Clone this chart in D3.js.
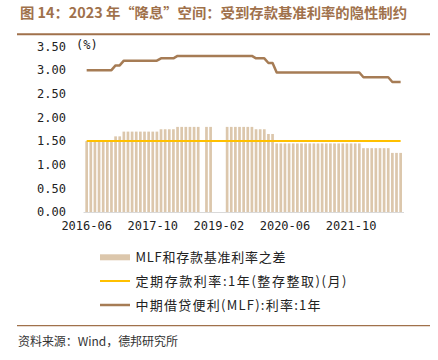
<!DOCTYPE html>
<html>
<head>
<meta charset="utf-8">
<script src="https://cdn.jsdelivr.net/npm/d3@7"></script>
<style>
  html, body { margin: 0; padding: 0; background: #fff; }
  svg { display: block; }
</style>
</head>
<body>
<svg id="chart" width="438" height="360"></svg>
<script>
// ---- Data ----
const months = [
  "2016-06","2016-07","2016-08","2016-09","2016-10","2016-11","2016-12",
  "2017-01","2017-02","2017-03","2017-04","2017-05","2017-06","2017-07","2017-08","2017-09","2017-10","2017-11","2017-12",
  "2018-01","2018-02","2018-03","2018-04","2018-05","2018-06","2018-07","2018-08","2018-09","2018-10","2018-11","2018-12",
  "2019-01","2019-02","2019-03","2019-04","2019-05","2019-06","2019-07","2019-08","2019-09","2019-10","2019-11","2019-12",
  "2020-01","2020-02","2020-03","2020-04","2020-05","2020-06","2020-07","2020-08","2020-09","2020-10","2020-11","2020-12",
  "2021-01","2021-02","2021-03","2021-04","2021-05","2021-06","2021-07","2021-08","2021-09","2021-10","2021-11","2021-12",
  "2022-01","2022-02","2022-03","2022-04","2022-05","2022-06","2022-07","2022-08","2022-09","2022-10"
];

// 中期借贷便利(MLF):利率:1年
const mlfRate = [
  3.00,3.00,3.00,3.00,3.00,3.00,3.00,
  3.10,3.10,3.20,3.20,3.20,3.20,3.20,3.20,3.20,3.20,3.20,3.25,
  3.25,3.25,3.25,3.30,3.30,3.30,3.30,3.30,3.30,3.30,3.30,3.30,
  3.30,3.30,3.30,3.30,3.30,3.30,3.30,3.30,3.30,3.30,3.25,3.25,
  3.25,3.15,3.15,2.95,2.95,2.95,2.95,2.95,2.95,2.95,2.95,2.95,
  2.95,2.95,2.95,2.95,2.95,2.95,2.95,2.95,2.95,2.95,2.95,2.95,
  2.85,2.85,2.85,2.85,2.85,2.85,2.85,2.75,2.75,2.75
];

// 定期存款利率:1年(整存整取)(月)
const depositRate = [
  1.50,1.50,1.50,1.50,1.50,1.50,1.50,
  1.50,1.50,1.50,1.50,1.50,1.50,1.50,1.50,1.50,1.50,1.50,1.50,
  1.50,1.50,1.50,1.50,1.50,1.50,1.50,1.50,1.50,1.50,1.50,1.50,
  1.50,1.50,1.50,1.50,1.50,1.50,1.50,1.50,1.50,1.50,1.50,1.50,
  1.50,1.50,1.50,1.50,1.50,1.50,1.50,1.50,1.50,1.50,1.50,1.50,
  1.50,1.50,1.50,1.50,1.50,1.50,1.50,1.50,1.50,1.50,1.50,1.50,
  1.50,1.50,1.50,1.50,1.50,1.50,1.50,1.50,1.50,1.50
];

// MLF和存款基准利率之差 (null = no value that month)
const spread = [
  1.50,1.50,1.50,1.50,1.50,1.50,1.50,
  1.60,1.60,1.70,1.70,1.70,1.70,1.70,1.70,1.70,1.70,1.70,1.75,
  1.75,1.75,1.75,1.80,1.80,1.80,1.80,1.80,1.80,null,1.80,1.80,
  null,null,null,1.80,1.80,1.80,1.80,1.80,1.80,1.80,1.75,1.75,
  1.75,1.65,1.65,1.45,1.45,1.45,1.45,1.45,1.45,1.45,1.45,1.45,
  1.45,1.45,1.45,1.45,1.45,1.45,1.45,1.45,1.45,1.45,1.45,1.45,
  1.35,1.35,1.35,1.35,1.35,1.35,1.35,1.25,1.25,1.25
];

const yTicks = [0, 0.5, 1.0, 1.5, 2.0, 2.5, 3.0, 3.5];
const xTickLabels = ["2016-06", "2017-10", "2019-02", "2020-06", "2021-10"];

const titleText = "图 14：2023 年“降息”空间：受到存款基准利率的隐性制约";
const legendLabels = ["MLF和存款基准利率之差", "定期存款利率:1年(整存整取)(月)", "中期借贷便利(MLF):利率:1年"];
const unitText = "(%)";
const sourceText = "资料来源：Wind，德邦研究所";

// ---- Styles ----
const C_BAR = "#DCC7AC";
const C_DEP = "#FFC000";
const C_MLF = "#A67C55";
const C_TITLE = "#A0714B";
const CJK = "'Noto Sans CJK SC', sans-serif";
const MONO = "'DejaVu Sans Mono', monospace";

const svg = d3.select("#chart");

// Title
svg.append("text")
  .attr("x", 20).attr("y", 17.5)
  .attr("font-family", CJK).attr("font-size", 14).attr("font-weight", "bold")
  .attr("fill", C_TITLE)
  .attr("textLength", 387).attr("lengthAdjust", "spacingAndGlyphs")
  .text(titleText);
svg.append("line")
  .attr("x1", 17).attr("x2", 430).attr("y1", 34.3).attr("y2", 34.3)
  .attr("stroke", C_TITLE).attr("stroke-width", 2);

// Scales
const x = d3.scaleBand().domain(months).range([84.6, 402.7])
  .paddingInner(0.35).paddingOuter(0.175);
const y = d3.scaleLinear().domain([0, 3.5]).range([212, 46.5]);

// Bars
svg.append("g").selectAll("rect")
  .data(months.map((m, i) => ({ m, v: spread[i] })).filter(d => d.v != null))
  .join("rect")
  .attr("x", d => x(d.m))
  .attr("width", x.bandwidth())
  .attr("y", d => y(d.v))
  .attr("height", d => y(0) - y(d.v))
  .attr("fill", C_BAR);

// X axis
const xAxis = svg.append("g")
  .attr("transform", `translate(0,${y(0)})`)
  .call(d3.axisBottom(x).tickValues(xTickLabels).tickSize(0).tickPadding(9).tickSizeOuter(0));
xAxis.select(".domain").attr("stroke", "#D9D9D9").attr("stroke-width", 1.2)
  .attr("d", `M83.5,0.5H404`);
xAxis.selectAll("text").attr("font-family", MONO).attr("font-size", 12).attr("fill", "#222");

// Y axis
const yAxis = svg.append("g")
  .attr("transform", "translate(70,0)")
  .call(d3.axisLeft(y).tickValues(yTicks).tickFormat(d3.format(".2f")).tickSize(0).tickPadding(4));
yAxis.select(".domain").remove();
yAxis.selectAll("text").attr("font-family", MONO).attr("font-size", 12).attr("fill", "#222");

svg.append("text")
  .attr("x", 76).attr("y", 49)
  .attr("font-family", MONO).attr("font-size", 12).attr("fill", "#222")
  .text(unitText);

// Lines
const cx = m => x(m) + x.bandwidth() / 2;
const lineGen = d3.line().x(d => cx(d.m)).y(d => y(d.v));

svg.append("path")
  .datum(months.map((m, i) => ({ m, v: depositRate[i] })))
  .attr("d", lineGen).attr("fill", "none")
  .attr("stroke", C_DEP).attr("stroke-width", 2);

svg.append("path")
  .datum(months.map((m, i) => ({ m, v: mlfRate[i] })))
  .attr("d", lineGen).attr("fill", "none")
  .attr("stroke", C_MLF).attr("stroke-width", 2.5).attr("stroke-linejoin", "round");

// Legend
const lg = svg.append("g");
const legendY = [257.5, 281, 305];
const legendW = [150, 211, 185];
lg.append("rect").attr("x", 100).attr("y", 254.3).attr("width", 30).attr("height", 6).attr("fill", C_BAR);
lg.append("line").attr("x1", 100).attr("x2", 130).attr("y1", legendY[1]).attr("y2", legendY[1])
  .attr("stroke", C_DEP).attr("stroke-width", 2);
lg.append("line").attr("x1", 100).attr("x2", 130).attr("y1", legendY[2]).attr("y2", legendY[2])
  .attr("stroke", C_MLF).attr("stroke-width", 2.5);
legendLabels.forEach((t, i) => {
  lg.append("text")
    .attr("x", 135.5).attr("y", legendY[i])
    .attr("dy", "0.36em")
    .attr("font-family", CJK).attr("font-size", 13).attr("fill", "#222")
    .attr("textLength", legendW[i]).attr("lengthAdjust", "spacing")
    .text(t);
});

// Footer
svg.append("line")
  .attr("x1", 17).attr("x2", 430).attr("y1", 325.7).attr("y2", 325.7)
  .attr("stroke", C_TITLE).attr("stroke-width", 1.3);
svg.append("text")
  .attr("x", 18).attr("y", 341.7).attr("dy", "0.36em")
  .attr("font-family", CJK).attr("font-size", 12).attr("fill", "#333")
  .attr("textLength", 160).attr("lengthAdjust", "spacing")
  .text(sourceText);
</script>
</body>
</html>
